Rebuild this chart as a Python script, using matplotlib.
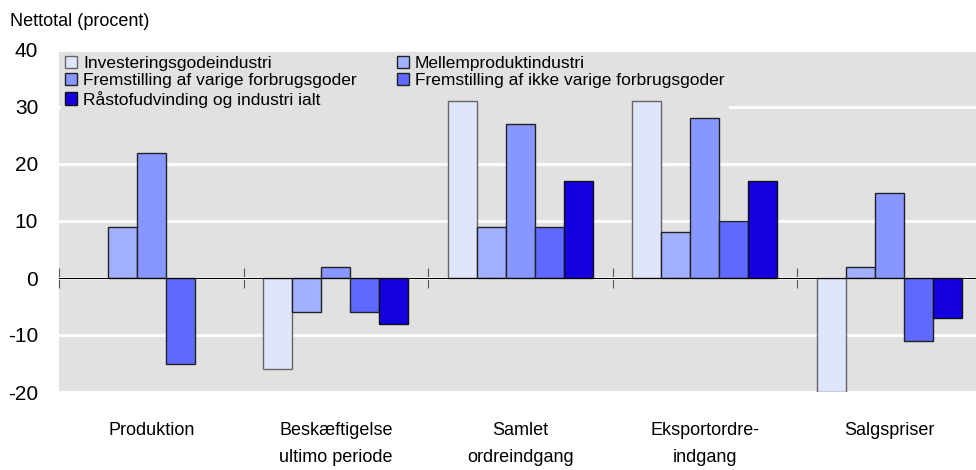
import numpy as np
import matplotlib
matplotlib.use('Agg')
import matplotlib.pyplot as plt
import matplotlib.transforms as mtransforms

plt.rcParams['font.family'] = ['Liberation Sans', 'DejaVu Sans']

categories = ['Produktion', 'Beskæftigelse\nultimo periode', 'Samlet\nordreindgang',
              'Eksportordre-\nindgang', 'Salgspriser']
series_names = ['Investeringsgodeindustri', 'Mellemproduktindustri',
                'Fremstilling af varige forbrugsgoder',
                'Fremstilling af ikke varige forbrugsgoder',
                'Råstofudvinding og industri ialt']
investering = [np.nan, -16, 31, 31, -20]
mellem = [9, -6, 9, 8, 2]
varige = [22, 2, 27, 28, 15]
ikke_varige = [-15, -6, 9, 10, -11]
raastof = [np.nan, -8, 17, 17, -7]
yticks = [-20, -10, 0, 10, 20, 30, 40]

series = [investering, mellem, varige, ikke_varige, raastof]
colors = ['#dfe6fb', '#a1b1ff', '#8897ff', '#5f69ff', '#1400df']
edges = ['#666666', '#222222', '#222222', '#222222', '#111111']

fig = plt.figure(figsize=(9.76, 4.70), dpi=100)
ax = fig.add_axes([59 / 976, 1 - 392 / 470, 1 - 59 / 976, 342 / 470])
ax.set_facecolor('#e1e1e1')

x = np.arange(len(categories))
w = 0.157
handles = []
for i, (vals, c, ec, name) in enumerate(zip(series, colors, edges, series_names)):
    b = ax.bar(x + (i - 2) * w, vals, w, color=c, edgecolor=ec, linewidth=1,
               label=name, zorder=3)
    handles.append(b)

ax.set_xlim(-0.5, 4.47)
ax.set_ylim(-20, 40)
ax.set_yticks(yticks)
ax.set_yticklabels([str(v) for v in yticks], fontsize=15)
ax.tick_params(axis='y', length=0, pad=15)
ax.yaxis.grid(True, color='white', linewidth=2)
ax.set_axisbelow(True)

for s in ['top', 'right', 'left']:
    ax.spines[s].set_visible(False)
ax.spines['bottom'].set_position(('data', 0))
ax.spines['bottom'].set_color('black')
ax.spines['bottom'].set_zorder(4)
ax.set_xticks(np.arange(len(categories)) - 0.5)
ax.tick_params(axis='x', direction='inout', length=15, color='#555555',
               labelbottom=False)

trans = mtransforms.blended_transform_factory(ax.transData, ax.transAxes)
for xi, lab in zip(x, categories):
    ax.text(xi, -0.088, lab, transform=trans, ha='center', va='top',
            fontsize=13, linespacing=1.75)

fig.text(10 / 976, 1 - 22 / 470, 'Nettotal (procent)', ha='left', va='center',
         fontsize=13)

# legend is filled column-wise, so reorder to read row-wise like the original
order = [0, 2, 4, 1, 3]
leg = ax.legend([handles[k] for k in order], [series_names[k] for k in order],
                loc='upper left', bbox_to_anchor=(0.0, 1.0), ncol=2,
                fontsize=12.5, frameon=True, fancybox=False, framealpha=1,
                facecolor='#e1e1e1', edgecolor='none', borderpad=0.25,
                handlelength=0.7, handleheight=0.7, handletextpad=0.35,
                columnspacing=2.3, labelspacing=0.12, borderaxespad=0.1)
leg.set_zorder(2)

fig.savefig('out.png', dpi=100)
